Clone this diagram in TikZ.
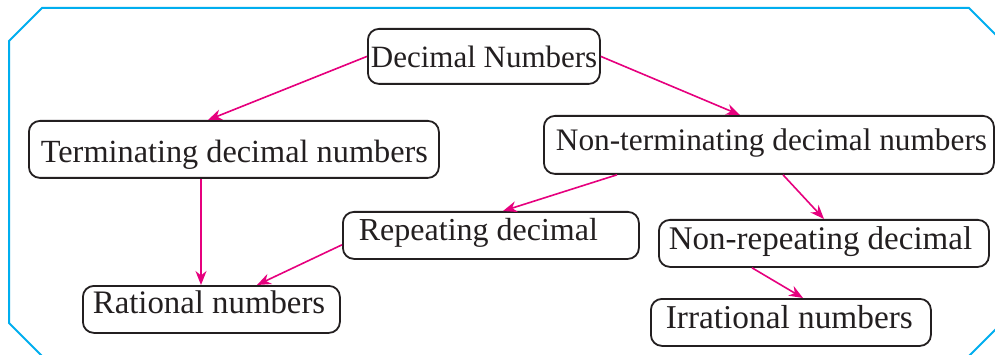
\documentclass[tikz,border=0pt]{standalone}
\usepackage{fontspec}
\setmainfont{Liberation Serif}
\usetikzlibrary{arrows.meta}
\definecolor{bordercyan}{HTML}{00AEEF}
\definecolor{arrowpink}{HTML}{E6007E}
\definecolor{boxink}{HTML}{231F20}
\newcommand\cbtext[4]{\fontsize{#1}{#1}\selectfont\makebox[#2pt][l]{\hspace*{#3pt}#4}}
\begin{document}
\begin{tikzpicture}[x=1pt,y=-1pt,
  conceptbox/.style={draw=boxink, line width=1.8pt, rounded corners=11pt, inner sep=0pt, anchor=north west, text=boxink, fill=white},
  flowarrow/.style={draw=arrowpink, line width=1.6pt, -{Stealth[length=14pt,width=11pt,inset=4.5pt]}}]
\useasboundingbox (0,0) rectangle (995,355);
\clip (0,0) rectangle (995,355);
\fill[white] (0,0) rectangle (995,355);
\draw[bordercyan, line width=2pt] (42,8) -- (969,8) -- (1002,41) -- (1002,323) -- (969,356) -- (42,356) -- (9,323) -- (9,41) -- cycle;

\node[conceptbox, text height=39pt, text depth=16pt] (dec) at (367,28) {\cbtext{31}{232}{3}{Decimal Numbers}};
\node[conceptbox, text height=42pt, text depth=15pt] (term) at (28,120) {\cbtext{32.3}{410}{12}{Terminating decimal numbers}};
\node[conceptbox, text height=35pt, text depth=23pt] (nonterm) at (543,115) {\cbtext{31.3}{450}{12}{Non-terminating decimal numbers}};
\node[conceptbox, text height=29pt, text depth=18pt] (rep) at (342,211) {\cbtext{32}{296}{16}{Repeating decimal}};
\node[conceptbox, text height=30pt, text depth=17pt] (nonrep) at (658,219) {\cbtext{33}{330}{10}{Non-repeating decimal}};
\node[conceptbox, text height=28pt, text depth=19pt] (rat) at (82,285) {\cbtext{32.8}{257}{10}{Rational numbers}};
\node[conceptbox, text height=30pt, text depth=17pt] (irr) at (650,298) {\cbtext{33.3}{280}{15}{Irrational numbers}};

\draw[flowarrow] (dec.west) -- ([xshift=180pt]term.north west);
\draw[flowarrow] (dec.east) -- ([xshift=197pt]nonterm.north west);
\draw[flowarrow] ([xshift=173pt]term.south west) -- ([xshift=119pt]rat.north west);
\draw[flowarrow] ([xshift=74pt]nonterm.south west) -- ([xshift=161pt]rep.north west);
\draw[flowarrow] ([yshift=15pt]rep.south west) -- ([xshift=175pt]rat.north west);
\draw[flowarrow] ([xshift=240pt]nonterm.south west) -- ([xshift=166pt]nonrep.north west);
\draw[flowarrow] ([xshift=94pt]nonrep.south west) -- ([xshift=153pt]irr.north west);
\end{tikzpicture}
\end{document}
